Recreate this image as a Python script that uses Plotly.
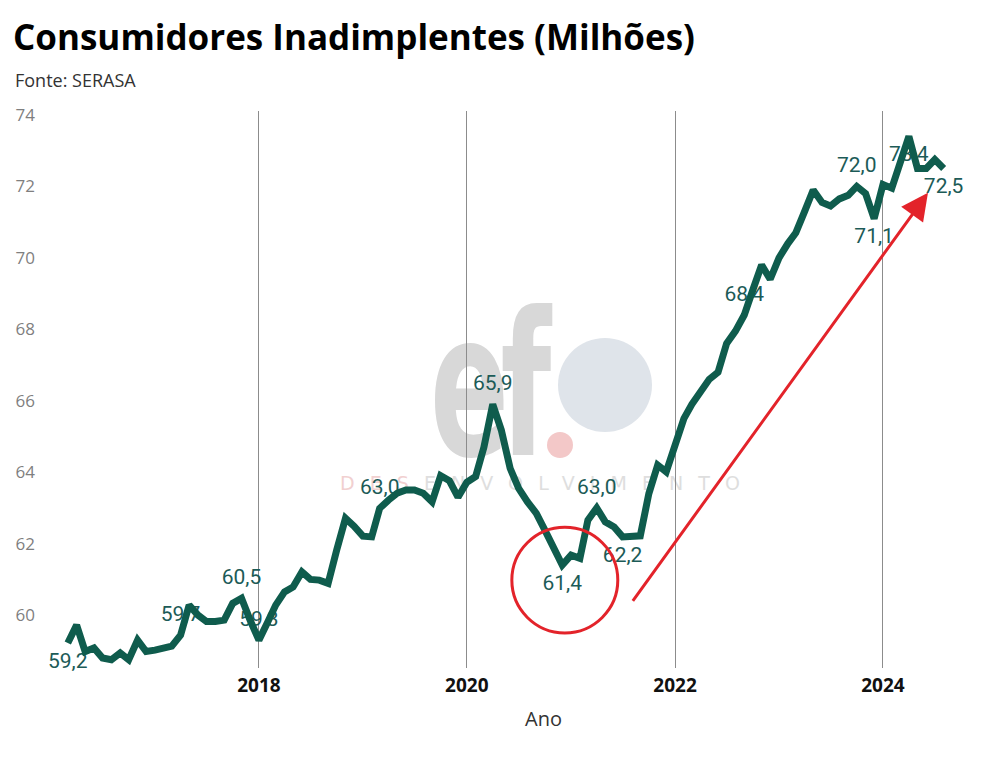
import base64
import pandas as pd
import plotly.graph_objects as go

# ---------------- data ----------------
start_month = "2016-03-01"
inadimplentes = [
    # 2016 (Mar-Dec)
    59.22, 59.72, 58.98, 59.08, 58.80, 58.75, 58.94, 58.75, 59.30, 58.98,
    # 2017
    59.02, 59.10, 59.13, 59.44, 60.28, 60.00, 59.82, 59.82, 59.86, 60.33, 60.47, 59.86,
    # 2018
    59.30, 59.81, 60.28, 60.65, 60.79, 61.21, 61.00, 60.98, 60.89, 61.82, 62.71, 62.49,
    # 2019
    62.21, 62.19, 62.99, 63.22, 63.41, 63.50, 63.50, 63.41, 63.17, 63.90, 63.76, 63.30,
    # 2020
    63.72, 63.88, 64.70, 65.90, 65.18, 64.11, 63.55, 63.17, 62.85, 62.38, 61.87, 61.40,
    # 2021
    61.68, 61.59, 62.66, 63.00, 62.61, 62.47, 62.19, 62.19, 62.22, 63.40, 64.20, 64.01,
    # 2022
    64.80, 65.50, 65.90, 66.25, 66.60, 66.80, 67.60, 67.95, 68.40, 69.10, 69.80, 69.40,
    # 2023
    70.00, 70.40, 70.70, 71.30, 71.90, 71.55, 71.45, 71.65, 71.75, 72.00, 71.80, 71.10,
    # 2024 (Jan-Aug)
    72.05, 71.95, 72.65, 73.40, 72.50, 72.50, 72.75, 72.50,
]
label_dates = ["2016-03-01", "2017-04-01", "2017-11-01", "2018-01-01", "2019-03-01",
               "2020-04-01", "2020-12-01", "2021-04-01", "2021-07-01", "2022-09-01",
               "2023-10-01", "2023-12-01", "2024-04-01", "2024-08-01"]
label_texts = ["59,2", "59,7", "60,5", "59,3", "63,0", "65,9", "61,4", "63,0", "62,2",
               "68,4", "72,0", "71,1", "73,4", "72,5"]
label_pos = ["bottom center", "top center", "top center", "top center", "top center",
             "top center", "bottom center", "top center", "bottom center", "top center",
             "top center", "bottom center", "bottom center", "bottom center"]
year_ticks = ["2018-01-01", "2020-01-01", "2022-01-01", "2024-01-01"]
year_labels = ["2018", "2020", "2022", "2024"]
y_ticks = [60, 62, 64, 66, 68, 70, 72, 74]

dates = pd.date_range(start_month, periods=len(inadimplentes), freq="MS")
label_y = [inadimplentes[list(dates).index(pd.Timestamp(d))] for d in label_dates]

LINE = "#0f5c4d"
LABEL = "#1c5b57"
RED = "#e3232a"

# page offset (browser body margin)
OFF = 8
# plot area in page pixels of the reference
L, R, T, B = 45 - OFF, 965 - OFF, 111 - OFF, 668 - OFF
W, H = R - L, B - T


def px(x):
    return (x - OFF - L) / W


def py(y):
    return (B - (y - OFF)) / H


# ---------------- watermark (svg image) ----------------
svg = """<svg xmlns="http://www.w3.org/2000/svg" width="440" height="210" viewBox="320 290 440 210">
<circle cx="605" cy="385" r="47" fill="#dfe4ea"/>
<text transform="translate(430,455) scale(1.08,1.85)" font-family="DejaVu Sans" font-weight="bold" font-size="108" fill="#d8d8d8" letter-spacing="-8">ef</text>
<circle cx="560" cy="445" r="13" fill="#f3c8c8"/>
<text x="340" y="490" font-family="DejaVu Sans" font-size="19" textLength="400" lengthAdjust="spacing"><tspan fill="#f1d0d0">DES</tspan><tspan fill="#dedede">ENVOLVIMENTO</tspan></text>
</svg>"""
svg_uri = "data:image/svg+xml;base64," + base64.b64encode(svg.encode()).decode()

fig = go.Figure()

# labels (under the line)
fig.add_trace(go.Scatter(
    x=pd.to_datetime(label_dates), y=label_y, mode="markers+text",
    text=label_texts, textposition=label_pos,
    marker=dict(size=13, opacity=0),
    textfont=dict(family="Roboto", size=21, color=LABEL),
    hoverinfo="skip", showlegend=False, cliponaxis=False,
))

fig.add_trace(go.Scatter(
    x=dates, y=inadimplentes, mode="lines",
    line=dict(color=LINE, width=7, shape="linear"),
    showlegend=False, cliponaxis=False,
))

fig.update_layout(
    width=1000, height=758,
    margin=dict(l=L, r=1000 - R, t=T, b=758 - B),
    paper_bgcolor="white", plot_bgcolor="white",
    title=dict(
        text="<b>Consumidores Inadimplentes (Milhões)</b>",
        font=dict(family="Open Sans", size=35, color="#000000"),
        xref="container", yref="container", x=(13 - OFF) / 1000, xanchor="left",
        y=1 - (38 - OFF) / 758, yanchor="middle",
    ),
    xaxis=dict(
        range=["2015-12-12", "2024-10-15"],
        tickvals=pd.to_datetime(year_ticks), ticktext=year_labels,
        tickfont=dict(family="Open Sans", size=19, color="#111111", weight="bold"),
        showgrid=True, gridcolor="#8c8c8c", gridwidth=1,
        showline=False, zeroline=False, ticks="", ticklabelstandoff=4,
        automargin=False,
    ),
    yaxis=dict(
        range=[58.52, 74.11], tickvals=y_ticks,
        tickfont=dict(family="Open Sans", size=17, color="#7f7f7f"),
        showgrid=False, showline=False, zeroline=False, ticks="",
        ticklabelstandoff=9, automargin=False,
    ),
    images=[dict(
        source=svg_uri, xref="paper", yref="paper",
        x=px(320), y=py(290), sizex=440 / W, sizey=210 / H,
        xanchor="left", yanchor="top", sizing="stretch", layer="below",
    )],
    shapes=[dict(
        type="circle", xref="x", yref="y",
        x0="2020-06-07", x1="2021-06-14", y0=59.5, y1=62.46,
        line=dict(color=RED, width=3), layer="above",
    )],
    annotations=[
        dict(text="Fonte: SERASA", xref="paper", yref="paper",
             x=px(13), y=py(80), xanchor="left", yanchor="middle",
             showarrow=False, font=dict(family="Open Sans", size=18, color="#333333")),
        dict(text="Ano", xref="paper", yref="paper",
             x=px(543), y=py(718), xanchor="center", yanchor="middle",
             showarrow=False, font=dict(family="Open Sans", size=20, color="#333333")),
        dict(text="", x="2024-06-07", y=71.82, xref="x", yref="y",
             ax="2021-08-02", ay=60.36, axref="x", ayref="y",
             showarrow=True, arrowhead=2, arrowsize=1.8, arrowwidth=3,
             arrowcolor=RED),
    ],
)

fig.write_html("out.html")
